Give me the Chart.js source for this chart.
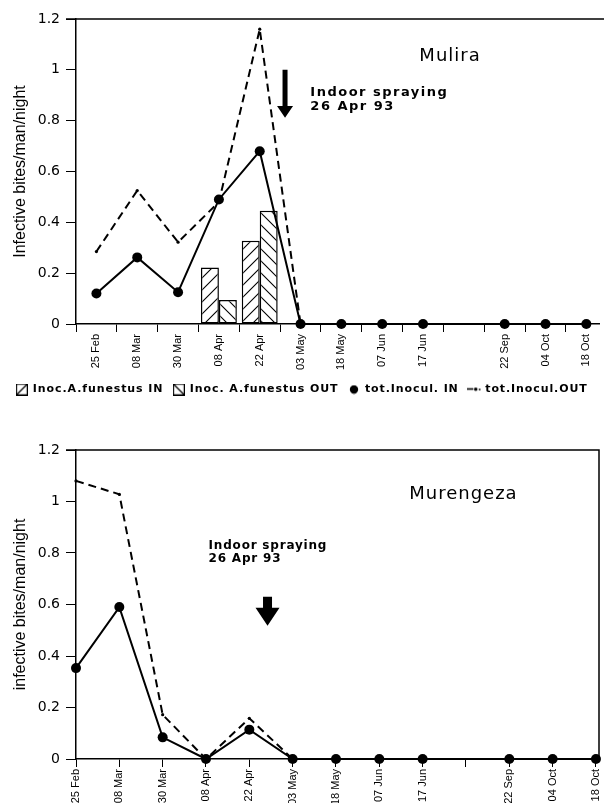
<!DOCTYPE html>
<html>
<head>
<meta charset="utf-8">
<script src="https://cdn.jsdelivr.net/npm/chart.js@4"></script>
<style>
html,body{margin:0;padding:0;background:#fff;overflow:hidden;width:604px;height:803px}
canvas{display:block;position:absolute;left:0}
#c1{top:0}
#c2{top:405px}
</style>
</head>
<body>
<canvas id="c1" width="604" height="405"></canvas>
<canvas id="c2" width="604" height="398"></canvas>
<script>
// ---------- data ----------
const categories = ['25 Feb','08 Mar','30 Mar','08 Apr','22 Apr','03 May','18 May','07 Jun','17 Jun','','22 Sep','04 Oct','18 Oct'];
const yTicks = [0, 0.2, 0.4, 0.6, 0.8, 1, 1.2];

// Mulira
const muliraInocIn   = [null, null, null, 0.222, 0.328, null, null, null, null, null, null, null, null];
const muliraInocOut  = [null, null, null, 0.094, 0.446, null, null, null, null, null, null, null, null];
const muliraTotIn    = [0.12, 0.262, 0.125, 0.49, 0.68, 0, 0, 0, 0, null, 0, 0, 0];
const muliraTotOut   = [0.285, 0.525, 0.322, 0.48, 1.16, 0, 0, 0, 0, null, 0, 0, 0];

// Murengeza
const murengezaTotIn  = [0.353, 0.59, 0.084, 0, 0.114, 0, 0, 0, 0, null, 0, 0, 0];
const murengezaTotOut = [1.08, 1.028, 0.172, 0, 0.158, 0, 0, 0, 0, null, 0, 0, 0];

const legendLabels = ['Inoc.A.funestus IN', 'Inoc. A.funestus OUT', 'tot.Inocul. IN', 'tot.Inocul.OUT'];

// ---------- helpers ----------
const toXY = arr => arr.map((v, i) => ({x: i, y: v}));

function hatchTile(dir) {
  const s = 12, c = document.createElement('canvas');
  c.width = c.height = s;
  const g = c.getContext('2d');
  g.fillStyle = '#fff'; g.fillRect(0, 0, s, s);
  g.strokeStyle = '#000'; g.lineWidth = 1.1; g.beginPath();
  if (dir === '/') {
    g.moveTo(-2, s + 2); g.lineTo(s + 2, -2);
    g.moveTo(-2, 2); g.lineTo(2, -2);
    g.moveTo(s - 2, s + 2); g.lineTo(s + 2, s - 2);
  } else {
    g.moveTo(-2, -2); g.lineTo(s + 2, s + 2);
    g.moveTo(s - 2, -2); g.lineTo(s + 2, 2);
    g.moveTo(-2, s - 2); g.lineTo(2, s + 2);
  }
  g.stroke();
  return c;
}
const patCtx = document.getElementById('c1').getContext('2d');
const patIn = patCtx.createPattern(hatchTile('/'), 'repeat');
const patOut = patCtx.createPattern(hatchTile('\\'), 'repeat');

function boxSymbol(dir) {
  const s = 12, c = document.createElement('canvas');
  c.width = c.height = s;
  const g = c.getContext('2d');
  g.fillStyle = '#fff'; g.fillRect(0, 0, s, s);
  g.strokeStyle = '#000'; g.lineWidth = 1.2;
  g.strokeRect(0.6, 0.6, s - 1.2, s - 1.2);
  g.beginPath();
  if (dir === '/') { g.moveTo(1, s - 1); g.lineTo(s - 1, 1); }
  else { g.moveTo(1, 1); g.lineTo(s - 1, s - 1); }
  g.stroke();
  return c;
}
function dotSymbol() {
  const c = document.createElement('canvas'); c.width = c.height = 10;
  const g = c.getContext('2d'); g.fillStyle = '#000';
  g.beginPath(); g.arc(5, 5, 4.2, 0, Math.PI * 2); g.fill();
  return c;
}
function dashSymbol() {
  const c = document.createElement('canvas'); c.width = 14; c.height = 6;
  const g = c.getContext('2d'); g.fillStyle = '#000'; g.strokeStyle = '#000';
  g.lineWidth = 1.6; g.beginPath(); g.moveTo(0, 2.5); g.lineTo(6, 2.5); g.stroke();
  g.beginPath(); g.arc(8.5, 2.8, 1.8, 0, Math.PI * 2); g.fill();
  g.beginPath(); g.arc(12.5, 3, 0.9, 0, Math.PI * 2); g.fill();
  return c;
}
const legendSymbols = [boxSymbol('/'), boxSymbol('\\'), dotSymbol(), dashSymbol()];

// letter-spaced legend text
function spacedLegend(spacing) {
  return {
    id: 'spacedLegend',
    beforeLayout(chart) {
      const lg = chart.legend;
      if (!lg || lg._spaced) return;
      lg._spaced = true;
      const wrap = fn => function (...a) {
        const ctx = this.ctx, prev = ctx.letterSpacing;
        ctx.letterSpacing = spacing;
        try { return fn.apply(this, a); } finally { ctx.letterSpacing = prev; }
      };
      lg.fit = wrap(lg.fit);
      lg.draw = wrap(lg.draw);
    }
  };
}

// annotations (text, arrow, frame) positioned via the chart scales
const annotPlugin = {
  id: 'annot',
  afterDraw(chart, args, opts) {
    const {ctx, chartArea: ca, scales: {x, y}} = chart;
    ctx.save();
    ctx.strokeStyle = '#000'; ctx.lineWidth = 1.5;
    ctx.beginPath();
    if (opts.frame === 'box') {
      ctx.moveTo(ca.left - 10, ca.top); ctx.lineTo(ca.right, ca.top); ctx.lineTo(ca.right, ca.bottom);
    } else {
      ctx.moveTo(ca.left - 10, ca.top); ctx.lineTo(chart.width, ca.top);
    }
    ctx.stroke();
    ctx.fillStyle = '#000';
    ctx.textAlign = 'left'; ctx.textBaseline = 'middle';
    (opts.texts || []).forEach(t => {
      ctx.font = t.font;
      ctx.letterSpacing = t.spacing || '0px';
      ctx.fillText(t.text, x.getPixelForValue(t.x), y.getPixelForValue(t.y));
    });
    ctx.letterSpacing = '0px';
    const a = opts.arrow;
    if (a) {
      const cx = x.getPixelForValue(a.x), yt = y.getPixelForValue(a.top),
            yh = y.getPixelForValue(a.head), yp = y.getPixelForValue(a.tip);
      ctx.beginPath();
      ctx.moveTo(cx - a.shaft / 2, yt); ctx.lineTo(cx + a.shaft / 2, yt);
      ctx.lineTo(cx + a.shaft / 2, yh); ctx.lineTo(cx + a.headW / 2, yh);
      ctx.lineTo(cx, yp); ctx.lineTo(cx - a.headW / 2, yh);
      ctx.lineTo(cx - a.shaft / 2, yh); ctx.closePath(); ctx.fill();
    }
    ctx.restore();
  }
};

function buildOptions(cfg) {
  return {
    responsive: false, animation: false, events: [],
    layout: {padding: cfg.padding},
    scales: {
      x: {
        type: 'linear', min: cfg.xMin, max: cfg.xMax, offset: false,
        afterBuildTicks: s => { s.ticks = categories.map((c, i) => ({value: i})); },
        afterFit: s => { s.height = cfg.xAxisHeight; s.paddingLeft = 0; s.paddingRight = 0; },
        ticks: {
          autoSkip: false, minRotation: 90, maxRotation: 90, padding: 2, color: '#000',
          font: {family: '"Liberation Sans", Arial, sans-serif', size: 11},
          callback: v => categories[v] ?? ''
        },
        grid: {display: true, drawOnChartArea: false, drawTicks: true, tickLength: 8, color: '#000', tickColor: '#000', tickWidth: 1},
        border: {display: true, color: '#000', width: 1.5}
      },
      y: {
        min: 0, max: 1.2,
        afterBuildTicks: s => { s.ticks = yTicks.map(v => ({value: v})); },
        afterFit: s => { s.width = 76; },
        ticks: {
          padding: 6, color: '#000',
          font: {family: '"DejaVu Sans", sans-serif', size: 14},
          callback: v => String(parseFloat(v.toFixed(1)))
        },
        grid: {display: true, drawOnChartArea: false, drawTicks: true, tickLength: 10, color: '#000', tickColor: '#000', tickWidth: 1},
        border: {display: true, color: '#000', width: 1.5},
        title: {
          display: true, text: cfg.yTitle, color: '#000',
          font: {family: '"Liberation Sans", Arial, sans-serif', size: 16},
          padding: {top: 11, bottom: 0}
        }
      }
    },
    plugins: {
      legend: cfg.legend,
      tooltip: {enabled: false},
      annot: cfg.annot
    }
  };
}

const inLine = (label, data) => ({
  type: 'line', label, data: toXY(data), order: 0,
  borderColor: '#000', backgroundColor: '#000', borderWidth: 2,
  pointRadius: 5, pointBackgroundColor: '#000', pointBorderWidth: 0,
  spanGaps: true, clip: false, tension: 0
});
const outLine = (label, data) => ({
  type: 'line', label, data: toXY(data), order: 1,
  borderColor: '#000', backgroundColor: '#000', borderWidth: 2, borderDash: [8, 5],
  pointRadius: 1.6, pointBackgroundColor: '#000', pointBorderWidth: 0,
  spanGaps: true, clip: false, tension: 0
});

// ---------- Mulira ----------
new Chart(document.getElementById('c1'), {
  type: 'bar',
  data: {
    datasets: [
      inLine(legendLabels[2], muliraTotIn),
      outLine(legendLabels[3], muliraTotOut),
      {type: 'bar', label: legendLabels[0], data: toXY(muliraInocIn), order: 2,
       backgroundColor: patIn, borderColor: '#000', borderWidth: 1.5, borderSkipped: false,
       barPercentage: 1, categoryPercentage: 0.88},
      {type: 'bar', label: legendLabels[1], data: toXY(muliraInocOut), order: 3,
       backgroundColor: patOut, borderColor: '#000', borderWidth: 1.5, borderSkipped: false,
       barPercentage: 1, categoryPercentage: 0.88}
    ]
  },
  options: buildOptions({
    xMin: -0.5, xMax: 12.31, xAxisHeight: 50,
    padding: {top: 19, right: 0, left: 0, bottom: 0},
    yTitle: 'Infective bites/man/night',
    legend: {
      display: true, position: 'bottom',
      labels: {
        usePointStyle: true, boxWidth: 11, boxHeight: 11, padding: 10, color: '#000',
        font: {family: '"DejaVu Sans", sans-serif', size: 11, weight: 'bold'},
        generateLabels: () => legendLabels.map((t, i) => ({
          text: t, pointStyle: legendSymbols[i], fillStyle: '#fff', strokeStyle: '#000',
          lineWidth: 0, hidden: false, fontColor: '#000'
        }))
      }
    },
    annot: {
      frame: 'top',
      texts: [
        {text: 'Mulira', x: 7.91, y: 1.052, font: '18px "DejaVu Sans"', spacing: '1px'},
        {text: 'Indoor spraying', x: 5.24, y: 0.909, font: 'bold 13px "DejaVu Sans"', spacing: '1.5px'},
        {text: '26 Apr 93', x: 5.24, y: 0.854, font: 'bold 13px "DejaVu Sans"', spacing: '1.5px'}
      ],
      arrow: {x: 4.62, top: 1.0, head: 0.858, tip: 0.811, shaft: 5, headW: 16}
    }
  }),
  plugins: [annotPlugin, spacedLegend('0.9px')]
});

// ---------- Murengeza ----------
new Chart(document.getElementById('c2'), {
  type: 'line',
  data: {
    datasets: [
      inLine(legendLabels[2], murengezaTotIn),
      outLine(legendLabels[3], murengezaTotOut)
    ]
  },
  options: buildOptions({
    xMin: 0, xMax: 12.07, xAxisHeight: 44,
    padding: {top: 45, right: 4, left: 0, bottom: 0},
    yTitle: 'infective bites/man/night',
    legend: {display: false},
    annot: {
      frame: 'box',
      texts: [
        {text: 'Murengeza', x: 7.69, y: 1.029, font: '18px "DejaVu Sans"', spacing: '1px'},
        {text: 'Indoor spraying', x: 3.06, y: 0.827, font: 'bold 12px "DejaVu Sans"', spacing: '0.8px'},
        {text: '26 Apr 93', x: 3.06, y: 0.778, font: 'bold 12px "DejaVu Sans"', spacing: '0.8px'}
      ],
      arrow: {x: 4.42, top: 0.63, head: 0.587, tip: 0.517, shaft: 9, headW: 24}
    }
  }),
  plugins: [annotPlugin]
});
</script>
</body>
</html>
